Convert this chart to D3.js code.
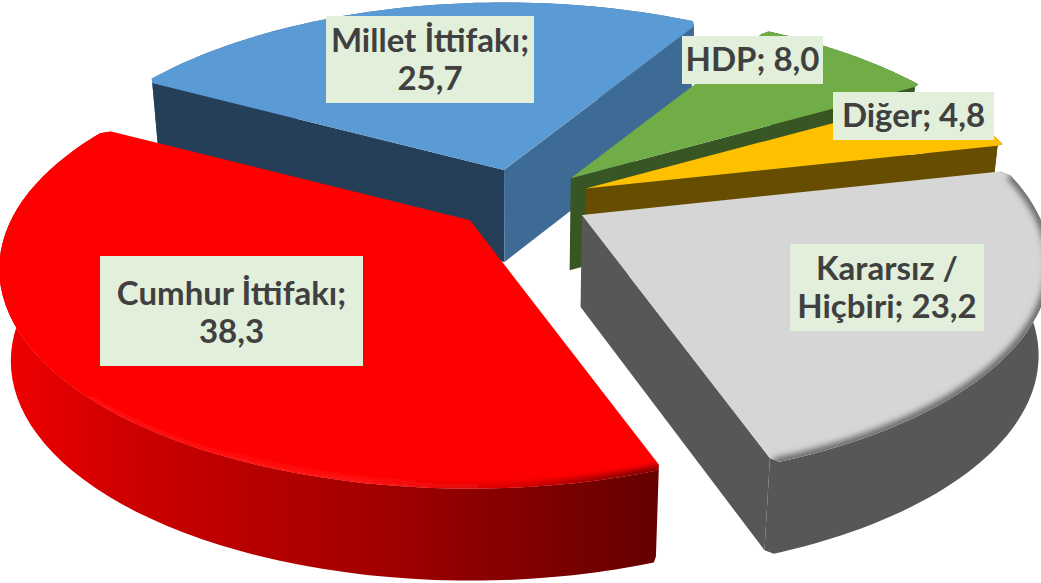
<!DOCTYPE html>
<html>
<head>
    <title>Pie 3D</title>
    <meta charset="utf-8">
    <script src="https://cdnjs.cloudflare.com/ajax/libs/d3/7.8.5/d3.min.js"></script>
    <style>
        html, body {
            margin: 0;
            background: #fff;
        }

        svg {
            display: block;
        }

        .label text {
            font-family: Lato, sans-serif;
            font-weight: 700;
            font-size: 33px;
            fill: #404040;
            text-anchor: middle;
        }
    </style>
</head>
<body>
<svg width="1041" height="583"></svg>
<script type="text/javascript">

var categories = ["Millet İttifakı", "HDP", "Diğer", "Kararsız / Hiçbiri", "Cumhur İttifakı"],
    values = [25.7, 8.0, 4.8, 23.2, 38.3],
    topColors = ["#5b9bd5", "#70ad47", "#ffc000", "#d6d6d6", "#ff0000"],
    wallColors = ["#3e6a96", "#375623", "#664d00", "#575757", "url(#redWall)"],
    innerWallColors = ["#253f58", "#375623", "#664d00", "#575757", "#700000"],
    bevelColors = ["none", "none", "none", "#636363", "url(#redRim)"],
    // label boxes, left top right bottom
    labelBoxes = [
        [326, 16, 534, 103],
        [682, 36, 823, 84],
        [833, 92, 994, 140],
        [790, 244, 984, 331],
        [100, 256, 363, 366]
    ],
    labelShift = [0, 0, 0, 0, 2];

var svg = d3.select("svg"),
    centerX = 522,
    centerY = 200,
    focal = 450,
    tilt = 0.455,
    persp = 4.5,
    explode = 0.152,
    frontGrow = 0.2,
    depth = 92,
    sag = 0.022,
    corner = 6,
    startDeg = -61.5;

var arcs = d3.pie().sort(null).startAngle(startDeg * Math.PI / 180).endAngle((360 + startDeg) * Math.PI / 180)(values);

function project(x, y) {
    var w = 1 + y / persp;
    return [centerX + focal * x / w, centerY - focal * tilt * y / w];
}

function drop(p) {
    return [p[0] - (p[0] - centerX) * sag, p[1] + depth];
}

function towards(a, b, px) {
    var len = Math.hypot(b[0] - a[0], b[1] - a[1]),
        t = Math.min(1, px / len);
    return [a[0] + (b[0] - a[0]) * t, a[1] + (b[1] - a[1]) * t];
}

// the explosion moves a slice in the picture plane, slices toward the viewer grow a little
function rimPoints(d) {
    var mid = (d.startAngle + d.endAngle) / 2,
        dy = explode * Math.cos(mid),
        grow = 1 - frontGrow * Math.min(dy, 0),
        apex = [
            centerX + focal * explode * Math.sin(mid),
            centerY - focal * tilt * dy
        ],
        steps = d3.range(0, 61).map(function (i) {
            return d.startAngle + (d.endAngle - d.startAngle) * i / 60;
        }),
        rim = steps.map(function (a) {
            var p = project(Math.sin(a), Math.cos(a));
            return [apex[0] + (p[0] - centerX) * grow, apex[1] + (p[1] - centerY) * grow];
        }),
        n = rim.length - 1,
        // small cut at the two outer corners
        rounded = [towards(rim[0], apex, corner), towards(rim[0], rim[1], corner)]
            .concat(rim.slice(1, n))
            .concat([towards(rim[n], rim[n - 1], corner), towards(rim[n], apex, corner)]);
    return {
        apex: apex,
        rim: rim,
        rounded: rounded,
        steps: steps
    };
}

var line = d3.line();

var defs = svg.append("defs");

function gradient(id, stops) {
    var g = defs.append("linearGradient")
        .attr("id", id)
        .attr("gradientUnits", "userSpaceOnUse")
        .attr("x1", 8).attr("x2", 642).attr("y1", 0).attr("y2", 0);
    stops.forEach(function (s) {
        g.append("stop").attr("offset", s[0]).attr("stop-color", s[1]);
    });
}

gradient("redWall", [[0, "#f00000"], [0.2, "#cc0000"], [0.6, "#a00000"], [1, "#680000"]]);
gradient("redRim", [[0, "#ff0000"], [0.55, "#ff1c1c"], [0.8, "#d00000"], [1, "#700000"]]);

defs.append("filter").attr("id", "soft")
    .attr("x", "-20%").attr("y", "-20%").attr("width", "140%").attr("height", "140%")
    .append("feGaussianBlur").attr("stdDeviation", 3);

arcs.forEach(function (d, i) {
    var g = svg.append("g"),
        shape = rimPoints(d),
        rim = shape.rounded,
        first = rim[0],
        last = rim[rim.length - 1],
        face = [shape.apex].concat(rim);

    // outer wall
    g.append("path")
        .attr("d", line(rim.concat(rim.map(drop).reverse())) + "Z")
        .attr("fill", wallColors[i]);

    // radial walls, only those turned to the viewer
    if (Math.cos(d.startAngle - Math.PI / 2) < 0) {
        g.append("path")
            .attr("d", line([shape.apex, first, drop(first), drop(shape.apex)]) + "Z")
            .attr("fill", innerWallColors[i]);
    }
    if (Math.cos(d.endAngle + Math.PI / 2) < 0) {
        g.append("path")
            .attr("d", line([shape.apex, last, drop(last), drop(shape.apex)]) + "Z")
            .attr("fill", i === 0 ? wallColors[i] : innerWallColors[i]);
    }

    g.append("path")
        .attr("d", line(face) + "Z")
        .attr("fill", topColors[i]);

    // soft bevel along the front of the rim
    defs.append("clipPath").attr("id", "face" + i)
        .append("path").attr("d", line(face) + "Z");
    var front = shape.rim.filter(function (p, j) {
        return Math.cos(shape.steps[j]) < 0.2;
    });
    if (front.length > 1 && bevelColors[i] !== "none") {
        g.append("g").attr("clip-path", "url(#face" + i + ")")
            .append("path")
            .attr("d", line(front))
            .attr("fill", "none")
            .attr("stroke", bevelColors[i])
            .attr("stroke-width", 9)
            .attr("filter", "url(#soft)");
    }
});

var fmt = function (v) { return d3.format(".1f")(v).replace(".", ","); };

var labels = svg.selectAll("g.label")
    .data(categories)
    .enter()
    .append("g")
    .attr("class", "label");

labels.each(function (cat, i) {
    var g = d3.select(this),
        box = labelBoxes[i],
        cx = (box[0] + box[2]) / 2,
        cy = (box[1] + box[3]) / 2 + labelShift[i],
        words = (cat + "; " + fmt(values[i])).split(" "),
        probe = g.append("text"),
        rows = [],
        cur = "";

    g.insert("rect", "text")
        .attr("x", box[0]).attr("y", box[1])
        .attr("width", box[2] - box[0]).attr("height", box[3] - box[1])
        .attr("fill", "#e2efda");

    words.forEach(function (w) {
        var t = cur ? cur + " " + w : w;
        probe.text(t);
        if (probe.node().getComputedTextLength() > box[2] - box[0] - 4 && cur) {
            rows.push(cur);
            cur = w;
        } else {
            cur = t;
        }
    });
    rows.push(cur);
    probe.remove();

    rows.forEach(function (r, j) {
        g.append("text")
            .attr("x", cx)
            .attr("y", cy + (j - (rows.length - 1) / 2) * 38 + 11)
            .text(r);
    });
});

</script>
</body>
</html>
